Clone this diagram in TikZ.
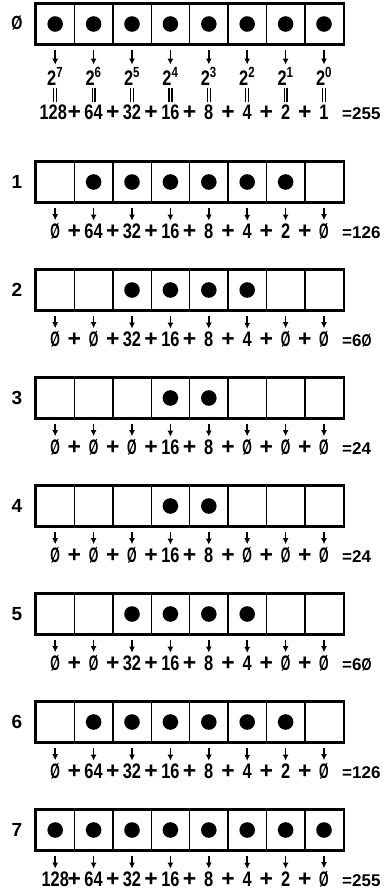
\documentclass[tikz,border=0pt]{standalone}
\usepackage{fontspec}
\setmainfont{Liberation Sans}[FakeStretch=0.78]
\newfontfamily\widefont{Liberation Sans}
\usetikzlibrary{arrows.meta}
\newcommand{\zro}{\scalebox{0.75}[1]{Ø}}

\begin{document}
\begin{tikzpicture}[x=1pt,y=-1pt,every node/.style={font=\fontsize{21}{21}\selectfont\bfseries},
    cell/.style={draw,line width=1.4pt,minimum width=38.4pt,minimum height=40pt,inner sep=0pt},
    num/.style={anchor=base,inner sep=0.5pt},
    plus/.style={anchor=base,inner sep=0pt,font=\widefont\fontsize{23}{23}\selectfont\bfseries},
    total/.style={anchor=base west,inner sep=0pt,font=\widefont\fontsize{17}{17}\selectfont\bfseries},
    rowlabel/.style={font=\widefont\fontsize{19}{19}\selectfont\bfseries},
    bitarrow/.style={-{Latex[length=6pt,width=6pt]},line width=1.5pt,shorten <=5pt,shorten >=2pt},
    eqbar/.style={double,double distance=1.6pt,line width=1.3pt,shorten <=2pt,shorten >=2pt}]
  \useasboundingbox (0,0) rectangle (387,892);
  % row 0 with the powers of two
  \node[rowlabel] (l0) at (17,23) {\zro};
  \foreach \b/\e/\v/\dx [count=\i] in {1/7/128/-2,1/6/64/0,1/5/32/0,1/4/16/0,1/3/8/0,1/2/4/0,1/1/2/0,1/0/1/0} {
    \node[cell] (c0-\i) at (16.8+38.4*\i,24) {};
    \fill (c0-\i) circle (7.8pt);
    \node[num] (e\i) at (16.8+38.4*\i,85) {2\textsuperscript{\e}};
    \node[num] (n0-\i) at (16.8+38.4*\i+\dx,119) {\v};
    \draw[bitarrow] (c0-\i) -- (e\i);
    \draw[eqbar] (e\i) -- (e\i |- n0-\i.north);
  }
  \foreach \i in {1,...,7} \node[plus] (p0-\i) at (36+38.4*\i,119) {+};
  \node[total] (s0) at (342,119) {=255};
  \draw[line width=2pt] (c0-1.north west) rectangle (c0-8.south east);
  % rows 1 to 7
  \foreach \rw/\ty/\cells/\res in {
      1/162/{0/\zro,1/64,1/32,1/16,1/8,1/4,1/2,0/\zro}/126,
      2/270/{0/\zro,0/\zro,1/32,1/16,1/8,1/4,0/\zro,0/\zro}/6\zro,
      3/378/{0/\zro,0/\zro,0/\zro,1/16,1/8,0/\zro,0/\zro,0/\zro}/24,
      4/486/{0/\zro,0/\zro,0/\zro,1/16,1/8,0/\zro,0/\zro,0/\zro}/24,
      5/594/{0/\zro,0/\zro,1/32,1/16,1/8,1/4,0/\zro,0/\zro}/6\zro,
      6/702/{0/\zro,1/64,1/32,1/16,1/8,1/4,1/2,0/\zro}/126,
      7/810/{1/128,1/64,1/32,1/16,1/8,1/4,1/2,1/\zro}/255} {
    \node[rowlabel] (l\rw) at (17,\ty+20) {\rw};
    \foreach \b/\v [count=\i] in \cells {
      \node[cell] (c\rw-\i) at (16.8+38.4*\i,\ty+20) {};
      \ifnum\b=1 \fill (c\rw-\i) circle (7.8pt);\fi
      \node[num] (n\rw-\i) at (16.8+38.4*\i,\ty+76) {\v};
      \draw[bitarrow] (c\rw-\i) -- (c\rw-\i |- n\rw-\i.north);
    }
    \foreach \i in {1,...,7} \node[plus] (p\rw-\i) at (36+38.4*\i,\ty+76) {+};
    \node[total] (s\rw) at (342,\ty+76) {=\res};
    \draw[line width=2pt] (c\rw-1.north west) rectangle (c\rw-8.south east);
  }
\end{tikzpicture}
\end{document}
